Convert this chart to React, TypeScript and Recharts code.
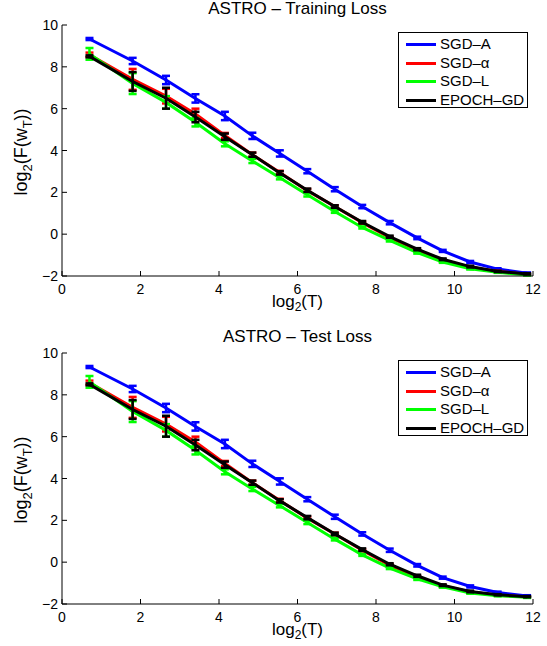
import { LineChart, Line, XAxis, YAxis, ErrorBar } from 'recharts';

const xs = [0.7, 1.8, 2.65, 3.4, 4.15, 4.85, 5.55, 6.25, 6.95, 7.65, 8.35, 9.05, 9.7, 10.4, 11.1, 11.85];

const trainA = [9.33, 8.28, 7.37, 6.49, 5.65, 4.7, 3.86, 3.01, 2.15, 1.32, 0.55, -0.18, -0.8, -1.33, -1.67, -1.87];
const trainAlpha = [8.58, 7.4, 6.6, 5.75, 4.72, 3.8, 2.95, 2.08, 1.32, 0.55, -0.17, -0.75, -1.25, -1.58, -1.78, -1.92];
const trainL = [8.62, 7.2, 6.3, 5.35, 4.32, 3.5, 2.7, 1.88, 1.08, 0.32, -0.3, -0.88, -1.33, -1.65, -1.82, -1.95];
const trainEpoch = [8.5, 7.3, 6.5, 5.6, 4.66, 3.8, 2.93, 2.1, 1.32, 0.57, -0.12, -0.72, -1.2, -1.55, -1.78, -1.9];

const testA = [9.33, 8.28, 7.37, 6.49, 5.65, 4.7, 3.86, 3.01, 2.17, 1.35, 0.57, -0.15, -0.74, -1.16, -1.45, -1.62];
const testAlpha = [8.58, 7.4, 6.6, 5.75, 4.72, 3.8, 2.95, 2.1, 1.35, 0.57, -0.15, -0.7, -1.13, -1.43, -1.58, -1.66];
const testL = [8.62, 7.2, 6.3, 5.35, 4.32, 3.5, 2.7, 1.9, 1.1, 0.35, -0.28, -0.8, -1.18, -1.47, -1.6, -1.68];
const testEpoch = [8.5, 7.3, 6.5, 5.6, 4.66, 3.8, 2.93, 2.13, 1.35, 0.6, -0.1, -0.65, -1.1, -1.4, -1.56, -1.65];

// half-widths of the error bars
const errA = [0.05, 0.15, 0.2, 0.2, 0.2, 0.15, 0.15, 0.1, 0.1, 0.08, 0.08, 0.06, 0.05, 0.05, 0.04, 0.04];
const errAlpha = [0.1, 0.5, 0.35, 0.25, 0.12, 0.1, 0.08, 0.08, 0.06, 0.05, 0.05, 0.05, 0.04, 0.04, 0.03, 0.03];
const errL = [0.28, 0.5, 0.3, 0.2, 0.12, 0.1, 0.08, 0.08, 0.06, 0.05, 0.05, 0.05, 0.04, 0.04, 0.03, 0.03];
const errEpoch = [0.05, 0.45, 0.5, 0.25, 0.15, 0.1, 0.08, 0.08, 0.06, 0.06, 0.05, 0.05, 0.04, 0.04, 0.03, 0.03];

const xTicks = [0, 2, 4, 6, 8, 10, 12];
const yTicks = [-2, 0, 2, 4, 6, 8, 10];

const seriesNames = ['SGD\u2013A', 'SGD\u2013\u03b1', 'SGD\u2013L', 'EPOCH\u2013GD'];
const seriesColors = ['#0000ff', '#ff0000', '#00ff00', '#000000'];

const FONT = '"Liberation Sans", Arial, Helvetica, sans-serif';

const fmt = (v: number) => (v < 0 ? `\u2212${Math.abs(v)}` : `${v}`);

const BottomTick = ({ x, y, payload }: any) => (
  <g>
    <line x1={x} x2={x} y1={y} y2={y - 5} stroke="#000" />
    <text x={x} y={y + 18} textAnchor="middle" fontSize={14} fontFamily={FONT} fill="#000">
      {fmt(payload.value)}
    </text>
  </g>
);

const LeftTick = ({ x, y, payload }: any) => (
  <g>
    <line x1={x} x2={x + 5} y1={y} y2={y} stroke="#000" />
    <text x={x - 4} y={y + 5} textAnchor="end" fontSize={14} fontFamily={FONT} fill="#000">
      {fmt(payload.value)}
    </text>
  </g>
);

const TopTick = ({ x, y }: any) => <line x1={x} x2={x} y1={y} y2={y + 5} stroke="#000" />;
const RightTick = ({ x, y }: any) => <line x1={x} x2={x - 5} y1={y} y2={y} stroke="#000" />;

const XLabel = ({ viewBox }: any) => {
  const cx = viewBox.x + viewBox.width / 2;
  return (
    <text x={cx} y={307} textAnchor="middle" fontSize={17} fontFamily={FONT} fill="#000">
      <tspan>log</tspan>
      <tspan dy={4} fontSize={12}>2</tspan>
      <tspan dy={-4}>(T)</tspan>
    </text>
  );
};

const YLabel = () => (
  <text
    x={0}
    y={0}
    transform="translate(27, 152) rotate(-90)"
    textAnchor="middle"
    fontSize={18}
    fontFamily={FONT}
    fill="#000"
  >
    <tspan>log</tspan>
    <tspan dy={5} fontSize={13}>2</tspan>
    <tspan dy={-5}>(F(w</tspan>
    <tspan dy={5} fontSize={13}>T</tspan>
    <tspan dy={-5}>))</tspan>
  </text>
);

function Panel({ title, a, alpha, l, epoch, top }: any) {
  const data = xs.map((x, i) => ({
    x,
    a: a[i],
    r: alpha[i],
    l: l[i],
    e: epoch[i],
    ea: errA[i],
    er: errAlpha[i],
    el: errL[i],
    ee: errEpoch[i],
  }));
  const keys = [
    ['a', 'ea'],
    ['r', 'er'],
    ['l', 'el'],
    ['e', 'ee'],
  ];

  return (
    <div style={{ position: 'absolute', left: 0, top, width: 547, height: 318 }}>
      <div
        style={{
          position: 'absolute',
          left: 62,
          width: 471,
          top: 0,
          textAlign: 'center',
          fontFamily: FONT,
          fontSize: 17,
          lineHeight: '17px',
          color: '#000',
        }}
      >
        {title}
      </div>
      <LineChart width={547} height={318} data={data} margin={{ top: 25, right: 14, bottom: 2, left: 12 }}>
        <XAxis
          dataKey="x"
          type="number"
          domain={[0, 12]}
          ticks={xTicks}
          allowDataOverflow
          height={40}
          tickSize={0}
          tickMargin={0}
          tickLine={false}
          tick={<BottomTick />}
          axisLine={{ stroke: '#000' }}
          label={<XLabel />}
        />
        <XAxis
          xAxisId="top"
          orientation="top"
          dataKey="x"
          type="number"
          domain={[0, 12]}
          ticks={xTicks}
          allowDataOverflow
          height={0}
          tickSize={0}
          tickMargin={0}
          tickLine={false}
          tick={<TopTick />}
          axisLine={{ stroke: '#000' }}
        />
        <YAxis
          type="number"
          domain={[-2, 10]}
          ticks={yTicks}
          allowDataOverflow
          width={50}
          tickSize={0}
          tickMargin={0}
          tickLine={false}
          tick={<LeftTick />}
          axisLine={{ stroke: '#000' }}
          label={<YLabel />}
        />
        <YAxis
          yAxisId="right"
          orientation="right"
          type="number"
          domain={[-2, 10]}
          ticks={yTicks}
          allowDataOverflow
          width={0}
          tickSize={0}
          tickMargin={0}
          tickLine={false}
          tick={<RightTick />}
          axisLine={{ stroke: '#000' }}
        />
        {keys.map(([k, ek], i) => (
          <Line
            key={k}
            type="linear"
            dataKey={k}
            stroke={seriesColors[i]}
            strokeWidth={3}
            dot={false}
            isAnimationActive={false}
          >
            <ErrorBar dataKey={ek} direction="y" width={4} strokeWidth={2.5} stroke={seriesColors[i]} />
          </Line>
        ))}
      </LineChart>
      <div
        style={{
          position: 'absolute',
          left: 398,
          top: 32,
          width: 128,
          height: 74,
          border: '1px solid #000',
          background: '#fff',
          fontFamily: FONT,
          fontSize: 15,
          color: '#000',
        }}
      >
        {seriesNames.map((n, i) => (
          <div key={n} style={{ position: 'absolute', left: 0, top: 2 + i * 18.5, height: 18, width: 128 }}>
            <div
              style={{
                position: 'absolute',
                left: 7,
                top: 8,
                width: 30,
                height: 3,
                background: seriesColors[i],
              }}
            />
            <span style={{ position: 'absolute', left: 41, top: 0, lineHeight: '18px', whiteSpace: 'nowrap' }}>
              {n}
            </span>
          </div>
        ))}
      </div>
    </div>
  );
}

export default function App() {
  return (
    <div style={{ position: 'absolute', left: 0, top: 0, width: 547, height: 646, background: '#fff' }}>
      <Panel title={'ASTRO \u2013 Training Loss'} a={trainA} alpha={trainAlpha} l={trainL} epoch={trainEpoch} top={0} />
      <Panel title={'ASTRO \u2013 Test Loss'} a={testA} alpha={testAlpha} l={testL} epoch={testEpoch} top={328} />
    </div>
  );
}
